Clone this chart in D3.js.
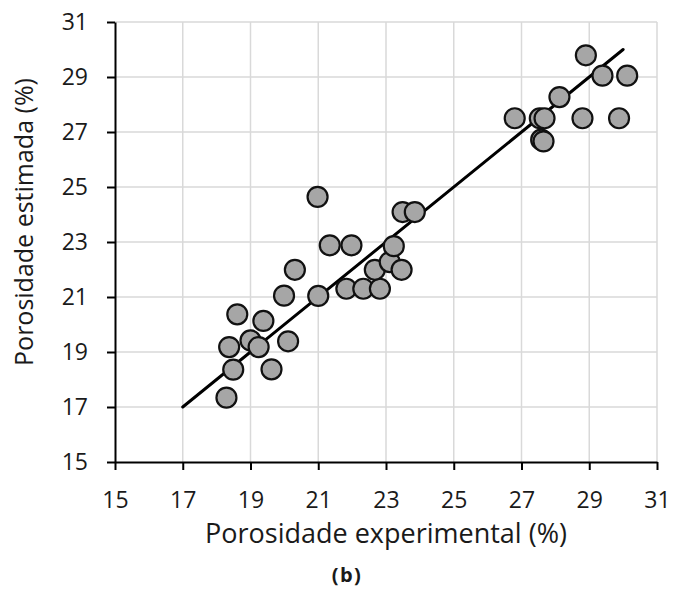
<!DOCTYPE html>
<html>
<head>
<meta charset="utf-8">
<script src="https://cdn.jsdelivr.net/npm/d3@7"></script>
<style>
  body { margin: 0; background: #fff; }
  svg { display: block; font-family: 'Open Sans', sans-serif; }
</style>
</head>
<body>
<svg id="svg" width="673" height="590"></svg>
<script>
// porosidade experimental (x) e estimada (y), em %
const expX = [18.29, 18.49, 18.37, 18.61, 19.00, 19.24, 19.38, 19.62, 20.11, 19.99,
  20.31, 21.00, 20.98, 21.34, 21.98, 21.83, 22.33, 22.82, 22.67, 23.11,
  23.23, 23.46, 23.49, 23.85, 26.80, 27.54, 27.68, 27.58, 27.65, 28.12,
  28.80, 28.90, 29.39, 30.12, 29.88];
const estY = [17.34, 18.36, 19.18, 20.37, 19.42, 19.18, 20.13, 18.37, 19.39, 21.05,
  21.99, 21.04, 24.64, 22.88, 22.88, 21.30, 21.30, 21.30, 21.99, 22.27,
  22.85, 21.99, 24.09, 24.09, 27.50, 27.50, 27.50, 26.72, 26.66, 28.27,
  27.50, 29.79, 29.05, 29.05, 27.50];

// linha de tendencia
const fitX = [17, 30];
const fitY = [17, 30];

const xTicks = [15, 17, 19, 21, 23, 25, 27, 29, 31];
const yTicks = [15, 17, 19, 21, 23, 25, 27, 29, 31];

const xTitle = 'Porosidade experimental (%)';
const yTitle = 'Porosidade estimada (%)';
const caption = '(b)';

const svg = d3.select('#svg');

const x = d3.scaleLinear().domain([15, 31]).range([115, 657]);
const y = d3.scaleLinear().domain([15, 31]).range([462, 22]);

/**
 * Grid
 */
const grid = svg.append('g')
  .attr('stroke', '#d9d9d9')
  .attr('stroke-width', 1.5);

grid.selectAll('line.gx')
  .data(xTicks.slice(1))
  .enter().append('line')
  .attr('class', 'gx')
  .attr('x1', d => x(d)).attr('x2', d => x(d))
  .attr('y1', y(15)).attr('y2', y(31));

grid.selectAll('line.gy')
  .data(yTicks.slice(1))
  .enter().append('line')
  .attr('class', 'gy')
  .attr('x1', x(15)).attr('x2', x(31))
  .attr('y1', d => y(d)).attr('y2', d => y(d));

/**
 * Axes
 */
const xAxis = svg.append('g')
  .attr('transform', `translate(0,${y(15)})`)
  .call(d3.axisBottom(x).tickValues(xTicks).tickSize(8).tickPadding(22).tickSizeOuter(0));

const yAxis = svg.append('g')
  .attr('transform', `translate(${x(15)},0)`)
  .call(d3.axisLeft(y).tickValues(yTicks).tickSize(8).tickPadding(19).tickSizeOuter(0));

[xAxis, yAxis].forEach(ax => {
  ax.select('.domain').attr('stroke', '#000').attr('stroke-width', 2);
  ax.selectAll('.tick line').attr('stroke', '#000').attr('stroke-width', 2);
  ax.selectAll('.tick text')
    .attr('fill', '#1a1a1a')
    .style('font-family', "'Open Sans', sans-serif")
    .style('font-size', '23px');
});

/**
 * Trend line
 */
const line = d3.line()
  .x(d => x(d[0]))
  .y(d => y(d[1]));

svg.append('path')
  .datum(d3.zip(fitX, fitY))
  .attr('d', line)
  .attr('fill', 'none')
  .attr('stroke', '#000')
  .attr('stroke-width', 3)
  .attr('stroke-linecap', 'round');

/**
 * Points
 */
svg.append('g')
  .selectAll('circle')
  .data(d3.zip(expX, estY))
  .enter().append('circle')
  .attr('cx', d => x(d[0]))
  .attr('cy', d => y(d[1]))
  .attr('r', 10)
  .attr('fill', '#a6a6a6')
  .attr('stroke', '#111')
  .attr('stroke-width', 2.2);

/**
 * Titles
 */
svg.append('text')
  .attr('x', (x(15) + x(31)) / 2)
  .attr('y', 543)
  .attr('text-anchor', 'middle')
  .attr('fill', '#1a1a1a')
  .style('font-size', '27px')
  .text(xTitle);

svg.append('text')
  .attr('transform', 'translate(33,222) rotate(-90)')
  .attr('text-anchor', 'middle')
  .attr('fill', '#1a1a1a')
  .style('font-size', '25px')
  .text(yTitle);

svg.append('text')
  .attr('x', 347)
  .attr('y', 582)
  .attr('text-anchor', 'middle')
  .attr('fill', '#1a1a1a')
  .style('font-size', '20px')
  .style('font-weight', 'bold')
  .style('letter-spacing', '1.5px')
  .text(caption);
</script>
</body>
</html>
